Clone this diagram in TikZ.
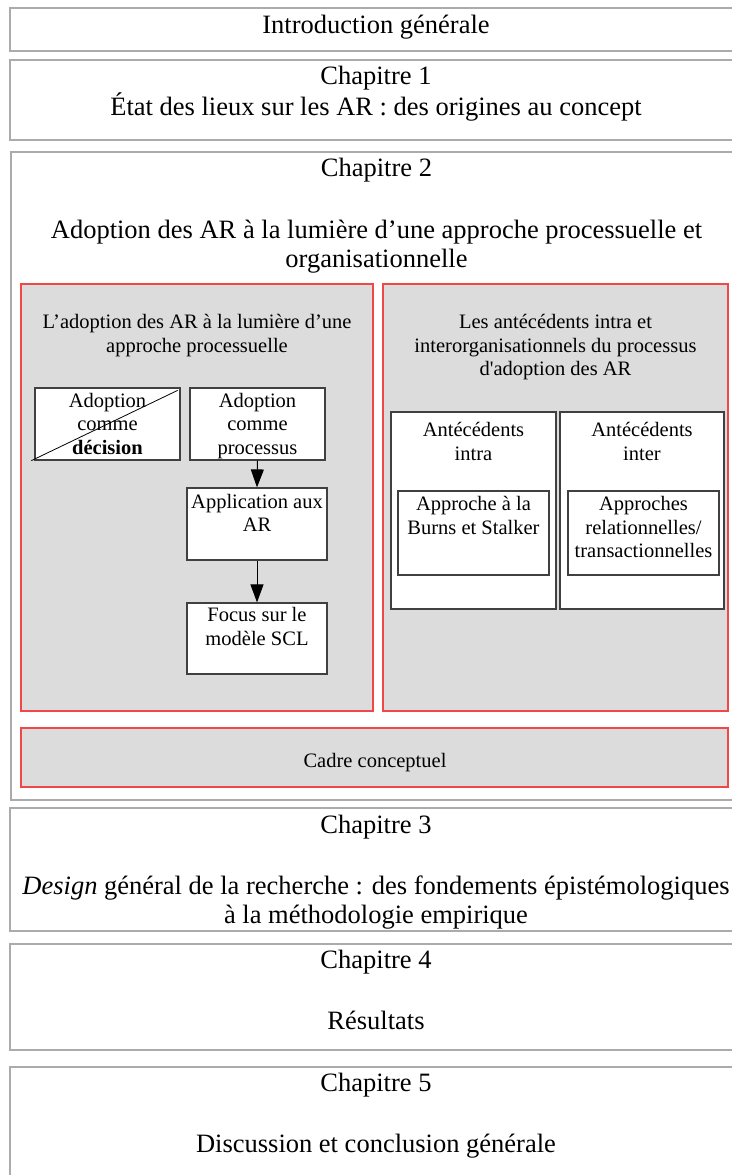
\documentclass[tikz,border=0pt]{standalone}
\usepackage{fontspec}
\setmainfont{Liberation Serif}
\usetikzlibrary{positioning, arrows.meta}
\definecolor{chapline}{HTML}{ABABAB}
\definecolor{partline}{HTML}{F04848}
\definecolor{partfill}{HTML}{DCDCDC}
\definecolor{blockline}{HTML}{404040}

\begin{document}
\begin{tikzpicture}
[x=1pt, y=-1pt,
 >={Triangle[length=18pt, width=13pt]},
 chapter/.style={draw=chapline, line width=1.6pt, fill=white, inner sep=0pt},
 part/.style={draw=partline, line width=1.2pt, fill=partfill, inner sep=0pt},
 block/.style={draw=blockline, line width=1.2pt, fill=white, inner sep=0pt},
 bigtext/.style={font=\fontsize{26.5}{29}\selectfont, align=center, inner sep=0pt},
 smalltext/.style={font=\fontsize{20.5}{23.5}\selectfont, align=center, inner sep=0pt}
]
\useasboundingbox (0,0) rectangle (731,1175);

% chapter frames
\node[chapter, minimum width=732pt, minimum height=43pt] (intro) at (376,29.5) {};
\node[chapter, minimum width=732pt, minimum height=80pt] (chap1) at (376,100) {};
\node[chapter, minimum width=731pt, minimum height=648pt] (chap2) at (376.5,476) {};
\node[chapter, minimum width=732pt, minimum height=123pt] (chap3) at (376,869.5) {};
\node[chapter, minimum width=732pt, minimum height=106pt] (chap4) at (376,997) {};
\node[chapter, minimum width=732pt, minimum height=118pt] (chap5) at (376,1126) {};

\node[bigtext, below=8pt of intro.north] (introtext) {Introduction générale};
\node[bigtext, below=7pt of chap1.north] (chap1text)
  {Chapitre 1\\[1.5pt]État des lieux sur les AR : des origines au concept};
\node[bigtext, below=7pt of chap2.north] (chap2text)
  {Chapitre 2\\[33pt]Adoption des AR à la lumière d’une approche processuelle et\\organisationnelle};
\node[bigtext, below=7.5pt of chap3.north] (chap3text)
  {Chapitre 3\\[32pt]\textit{Design} général de la recherche : des fondements épistémologiques\\à la méthodologie empirique};
\node[bigtext, below=6.5pt of chap4.north] (chap4text) {Chapitre 4\\[32pt]Résultats};
\node[bigtext, below=6.5pt of chap5.north] (chap5text) {Chapitre 5\\[32pt]Discussion et conclusion générale};

% parts of chapter 2
\node[part, minimum width=352pt, minimum height=427pt] (process) at (197,497.5) {};
\node[part, minimum width=345pt, minimum height=427pt] (anteced) at (555.5,497.5) {};
\node[part, minimum width=707pt, minimum height=59pt] (cadre) at (374.5,757.5) {};

\node[smalltext, below=31pt of process.north] (processtext)
  {L’adoption des AR à la lumière d’une\\approche processuelle};
\node[smalltext, below=31pt of anteced.north] (antecedtext)
  {Les antécédents intra et\\interorganisationnels du processus\\d\textquotesingle adoption des AR};
\node[smalltext] (cadretext) at (375,763) {Cadre conceptuel};

% left part
\node[block, minimum width=145pt, minimum height=72pt] (decision) at (107.5,424) {};
\node[block, minimum width=135pt, minimum height=72pt] (processus) at (257.5,424) {};
\node[block, minimum width=140pt, minimum height=72pt] (application) at (257,524) {};
\node[block, minimum width=140pt, minimum height=71pt] (focus) at (257,638.5) {};

\node[smalltext, below=5.5pt of decision.north] (decisiontext) {Adoption\\comme\\\textbf{décision}};
\node[smalltext, below=5.5pt of processus.north] (processustext) {Adoption\\comme\\processus};
\node[smalltext, below=6.5pt of application.north] (applicationtext) {Application aux\\AR};
\node[smalltext, below=5pt of focus.north] (focustext) {Focus sur le\\modèle SCL};

\draw[line width=0.8pt] ([xshift=-3pt]decision.south west) -- ([xshift=-3pt, yshift=-3pt]decision.north east);

\draw[->, line width=1pt] (processus.south) -- (application.north);
\draw[->, line width=1pt] (application.south) -- (focus.north);

% right part
\node[block, minimum width=165pt, minimum height=197pt] (intra) at (473.5,510.5) {};
\node[block, minimum width=164pt, minimum height=197pt] (inter) at (642,510.5) {};
\node[block, minimum width=151pt, minimum height=84pt] (burns) at (473.5,533) {};
\node[block, minimum width=151pt, minimum height=84pt] (relations) at (643.5,533) {};

\node[smalltext, below=11pt of intra.north] (intratext) {Antécédents\\intra};
\node[smalltext, below=11pt of inter.north] (intertext) {Antécédents\\inter};
\node[smalltext, below=6pt of burns.north] (burnstext) {Approche à la\\Burns et Stalker};
\node[smalltext, below=6pt of relations.north] (relationstext) {Approches\\relationnelles/\\transactionnelles};
\end{tikzpicture}
\end{document}
